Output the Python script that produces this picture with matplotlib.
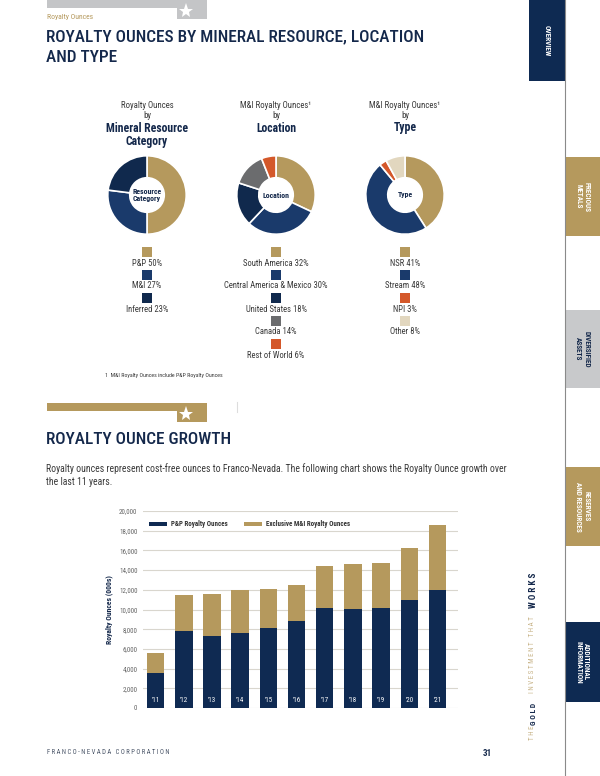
import numpy as np
import matplotlib
matplotlib.use('Agg')
import matplotlib.pyplot as plt
from matplotlib import font_manager
from matplotlib.patches import Rectangle

### pick a narrow font if one is installed
names = {f.name for f in font_manager.fontManager.ttflist}
COND = next((n for n in ['Liberation Sans Narrow', 'Roboto Condensed', 'Open Sans Condensed'] if n in names), 'Liberation Sans')
plt.rcParams['font.family'] = [COND, 'DejaVu Sans']

### colours
GOLD = '#B5995D'
NAVY = '#1A3A6B'
DNAVY = '#10294D'
GRAY = '#6B6C6E'
ORANGE = '#D4582A'
BEIGE = '#E2D7BF'
INK = '#14284B'
TXT = '#3A3A3A'

### donut data
mr_labels = ['P&P', 'M&I', 'Inferred']
mr_vals = [50, 27, 23]
loc_labels = ['South America', 'Central America & Mexico', 'United States', 'Canada', 'Rest of World']
loc_vals = [32, 30, 18, 14, 6]
type_labels = ['NSR', 'Stream', 'NPI', 'Other']
type_vals = [41, 48, 3, 8]

### bar chart data (000s oz)
years = ["'11", "'12", "'13", "'14", "'15", "'16", "'17", "'18", "'19", "'20", "'21"]
pp_oz = [3550, 7800, 7350, 7650, 8100, 8850, 10150, 10050, 10150, 10950, 12000]
excl_mi_oz = [2050, 3650, 4250, 4300, 3950, 3650, 4250, 4600, 4550, 5250, 6550]

W, H = 600, 776
fig = plt.figure(figsize=(W / 100, H / 100), dpi=100)

### page layer in pixel coords
page = fig.add_axes([0, 0, 1, 1])
page.set_xlim(0, W)
page.set_ylim(H, 0)
page.axis('off')

def banner(y0, color):
    page.add_patch(Rectangle((47, y0), 160, 8, color=color, lw=0))
    page.add_patch(Rectangle((177, y0), 30, 19, color=color, lw=0))
    page.plot(186, y0 + 11, marker='*', color='white', ms=11, mew=0)

banner(0, '#C4C5C7')
page.text(47, 17, 'Royalty Ounces', color=GOLD, fontsize=5.5, va='center')
page.text(46, 37, 'ROYALTY OUNCES BY MINERAL RESOURCE, LOCATION', color=INK, fontsize=12.4,
          fontweight='medium', va='center')
page.text(46, 57, 'AND TYPE', color=INK, fontsize=12.4, fontweight='medium', va='center')

banner(403, GOLD)
page.plot([237, 237], [402, 412], color='#DDDDDD', lw=0.8)
page.text(46, 439, 'ROYALTY OUNCE GROWTH', color=INK, fontsize=12.4, fontweight='medium', va='center')
page.text(46, 469, 'Royalty ounces represent cost-free ounces to Franco-Nevada. The following chart shows the Royalty Ounce growth over',
          color=TXT, fontsize=7, va='center')
page.text(46, 482, 'the last 11 years.', color=TXT, fontsize=7, va='center')

### right hand tabs
page.plot([564.5, 564.5], [0, H], color='#8A8A8A', lw=0.8)
tabs = [(529, 0, 81, '#0E2A52', 'OVERVIEW', 'white'),
        (564.5, 157, 79, GOLD, 'PRECIOUS\nMETALS', 'white'),
        (564.5, 310, 78, '#C8C9CB', 'DIVERSIFIED\nASSETS', INK),
        (564.5, 467, 79, GOLD, 'RESERVES\nAND RESOURCES', 'white'),
        (564.5, 622, 80, '#0E2A52', 'ADDITIONAL\nINFORMATION', 'white')]
for x0, y0, h, c, lab, tc in tabs:
    w = 564.5 - x0 if x0 < 564 else W - x0
    page.add_patch(Rectangle((x0, y0), w, h, color=c, lw=0))
    page.text(x0 + w / 2, y0 + h / 2, lab, rotation=270, color=tc, fontsize=5.2,
              fontweight='bold', ha='center', va='center', linespacing=1.0)

### vertical tag line
for seg, yb, c, fw, fs in [('T H E', 740, '#C9B58A', 'normal', 5), ('G O L D', 725, INK, 'bold', 5.5),
                            ('I N V E S T M E N T   T H A T', 693, '#C9B58A', 'normal', 5),
                            ('W O R K S', 608, INK, 'bold', 6.5)]:
    page.text(533, yb, seg, rotation=90, color=c, fontsize=fs, fontweight=fw, ha='center', va='bottom')

### footer
page.text(47, 753, ' '.join('FRANCO-NEVADA CORPORATION'), color='#4A5568', fontsize=4.8, va='center')
page.text(487, 753, '31', color=INK, fontsize=6.5, fontweight='bold', ha='center', va='center')

### donuts
donuts = [
    (147, ['Royalty Ounces', 'by'], ['Mineral Resource', 'Category'], 'Resource\nCategory',
     mr_labels, mr_vals, [GOLD, NAVY, DNAVY]),
    (276, ['M&I Royalty Ounces\u00b9', 'by'], ['Location'], 'Location',
     loc_labels, loc_vals, [GOLD, NAVY, DNAVY, GRAY, ORANGE]),
    (405, ['M&I Royalty Ounces\u00b9', 'by'], ['Type'], 'Type',
     type_labels, type_vals, [GOLD, NAVY, ORANGE, BEIGE]),
]
R = 40
CY = 195
for cx, head, bold, center, labs, vals, cols in donuts:
    for i, t in enumerate(head):
        page.text(cx, 105 + 11 * i, t, color=TXT, fontsize=6.3, ha='center', va='center')
    for i, t in enumerate(bold):
        page.text(cx, 128 + 13.5 * i, t, color=INK, fontsize=8.5, fontweight='bold', ha='center', va='center')
    ax = fig.add_axes([(cx - R) / W, 1 - (CY + R) / H, 2 * R / W, 2 * R / H])
    ax.pie(vals, colors=cols, startangle=90, counterclock=False,
           wedgeprops=dict(width=0.56, edgecolor='white', linewidth=1.2))
    ax.set_xlim(-1.02, 1.02)
    ax.set_ylim(-1.02, 1.02)
    ax.text(0, 0, center, ha='center', va='center', fontsize=5.6, fontweight='bold', color=INK, linespacing=1.1)
    for i, (lab, v, c) in enumerate(zip(labs, vals, cols)):
        page.add_patch(Rectangle((cx - 5, 247 + 23 * i), 10, 9.5, color=c, lw=0))
        page.text(cx, 263 + 23 * i, f'{lab} {v}%', color=TXT, fontsize=6.2, ha='center', va='center')

page.text(105, 375, '1  M&I Royalty Ounces include P&P Royalty Ounces', color=TXT, fontsize=4.2, va='center')

### royalty ounce growth bars
L, R2, T, B = 143, 458, 511, 708
bx = fig.add_axes([L / W, 1 - B / H, (R2 - L) / W, (B - T) / H])
x = np.arange(len(years))
bx.bar(x, pp_oz, width=0.62, color='#0F2A52', label='P&P Royalty Ounces', zorder=3)
bx.bar(x, excl_mi_oz, width=0.62, bottom=pp_oz, color=GOLD, label='Exclusive M&I Royalty Ounces', zorder=3)
for xi, yr in zip(x, years):
    bx.text(xi, 730, yr, color='white', fontsize=5, ha='center', va='center', zorder=4)
bx.set_xlim(-0.447, 10.73)
bx.set_ylim(0, 20000)
bx.set_yticks(np.arange(0, 20001, 2000))
bx.set_yticklabels([f'{v:,}' for v in range(0, 20001, 2000)])
bx.set_xticks([])
bx.grid(axis='y', color='#D9D6CE', lw=0.8, zorder=0)
for s in bx.spines.values():
    s.set_visible(False)
bx.tick_params(axis='y', length=0, pad=4, labelsize=5, labelcolor='#666666')
bx.set_ylabel('Royalty Ounces (000s)', fontsize=5.5, fontweight='bold', color=INK, labelpad=4)
bx.legend(loc='upper left', bbox_to_anchor=(0.0, 0.985), ncol=2, frameon=False,
          handlelength=2.6, handleheight=0.6, columnspacing=2.2, handletextpad=0.6,
          prop={'weight': 'bold', 'size': 5}, labelcolor='#333333')

fig.savefig('out.png', dpi=100)
